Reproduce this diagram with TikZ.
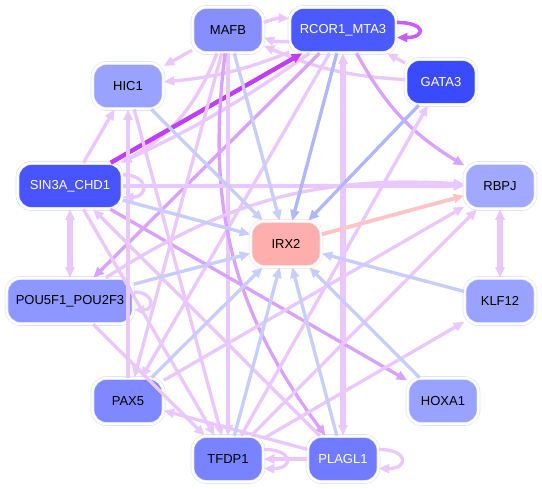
\documentclass[tikz,border=0pt]{standalone}
\usepackage{fontspec}
\setmainfont{Liberation Sans}
\usetikzlibrary{arrows.meta}
\usepackage{xcolor}
\definecolor{lav}{HTML}{DCE0FF}
\definecolor{clp}{HTML}{EAC8FF}
\definecolor{cmp}{HTML}{DAA2FF}
\definecolor{cdp}{HTML}{C23CFF}
\definecolor{crl}{HTML}{C95CFF}
\definecolor{clb}{HTML}{C8CDFF}
\definecolor{cmb}{HTML}{AFB8FF}
\definecolor{cpk}{HTML}{FFC4C4}
\definecolor{cmafb}{HTML}{878FFF}
\definecolor{crcor}{HTML}{4B5AFF}
\definecolor{cgata}{HTML}{3A4BFF}
\definecolor{chic}{HTML}{9AA2FF}
\definecolor{csin}{HTML}{4854FF}
\definecolor{crbpj}{HTML}{A0A8FF}
\definecolor{cirx}{HTML}{FFAEAE}
\definecolor{cklf}{HTML}{9AA2FF}
\definecolor{cpou}{HTML}{8E96FF}
\definecolor{cpax}{HTML}{7F88FF}
\definecolor{choxa}{HTML}{9AA2FF}
\definecolor{ctfdp}{HTML}{7A83FF}
\definecolor{cplagl}{HTML}{707BFF}

\begin{document}
\begin{tikzpicture}[>={Triangle[length=2.1mm,width=1.8mm]},
  tf/.style={rounded corners=2.8mm, minimum width=1.42cm, minimum height=0.92cm, inner xsep=1.5mm, draw=lav, line width=0.35pt, double=white, double distance=1.4pt, font=\fontsize{7.4}{9}\selectfont},
  dk/.style={tf, text=white},
  lp/.style={->, draw=clp, line width=1.9pt},
  mp/.style={->, draw=cmp, line width=1.9pt},
  dp/.style={->, draw=cdp, line width=2.5pt},
  lb/.style={->, draw=clb, line width=1.9pt},
  mb/.style={->, draw=cmb, line width=1.9pt},
  pk/.style={->, draw=cpk, line width=2.2pt},
  thk/.style={line width=2.9pt},
  selfloop/.style={out=0, in=0, looseness=4}]
  \useasboundingbox (0,0) rectangle (10.84,9.78);
  \node[tf, fill=cmafb] (mafb) at (4.56,9.18) {MAFB}; \node[dk, fill=crcor, minimum width=2.14cm] (rcor) at (6.86,9.18) {RCOR1\_MTA3};
  \node[dk, fill=cgata] (gata) at (8.82,8.14) {GATA3}; \node[tf, fill=chic] (hic) at (2.56,8.06) {HIC1};
  \node[dk, fill=csin, minimum width=2.1cm] (sin) at (1.40,6.06) {SIN3A\_CHD1}; \node[tf, fill=crbpj] (rbpj) at (10.0,6.06) {RBPJ};
  \node[tf, fill=cirx, draw=cpk!50] (irx) at (5.72,4.90) {IRX2};
  \node[tf, fill=cpou, minimum width=2.54cm] (pou) at (1.40,3.76) {POU5F1\_POU2F3}; \node[tf, fill=cklf] (klf) at (10.0,3.76) {KLF12};
  \node[tf, fill=cpax] (pax) at (2.56,1.76) {PAX5}; \node[tf, fill=choxa] (hoxa) at (8.86,1.76) {HOXA1};
  \node[tf, fill=ctfdp] (tfdp) at (4.56,0.60) {TFDP1}; \node[dk, fill=cplagl] (plagl) at (6.86,0.60) {PLAGL1};
  % top row
  \draw[lp] (mafb) to[bend left=12] (rcor); \draw[lp] (rcor) to[bend left=12] (mafb);
  \draw[->, draw=crl, line width=2pt] (rcor.8) to[selfloop, looseness=5] (rcor.-8);
  \draw[lp] (gata) -- (rcor); \draw[lp] (gata) to[bend left=10] (mafb);
  \draw[lp] (mafb) -- (hic); \draw[lp] (rcor) to[bend left=8] (hic);
  \draw[lp] (mafb) to[bend left=20] (sin); \draw[lp] (rcor) to[bend left=5] (sin);
  \draw[dp] (sin) -- (rcor);
  \draw[mp] (rcor) to[bend right=15] (rbpj); \draw[mp] (rcor) -- (pou);
  \draw[lp] (rcor) -- (pax); \draw[lp] (mafb) -- (pax); \draw[lp] (mafb) -- (tfdp);
  \draw[mp] (mafb) to[bend right=22] (plagl);
  \draw[lp, thk, <->] (rcor) -- (plagl);
  % left side
  \draw[lp] (sin) -- (hic); \draw[lp] (sin) -- (rbpj); \draw[lp, thk, <->] (sin) -- (pou);
  \draw[lp] (sin.12) to[selfloop, looseness=3] (sin.-12);
  \draw[mp] (sin) -- (hoxa); \draw[lp] (plagl) -- (sin); \draw[lp] (sin) -- (tfdp);
  \draw[lp] (pax) -- (hic); \draw[lp] (hic) -- (tfdp);
  \draw[lp] (pou) to[bend left=18] (rbpj); \draw[lp] (pou) -- (tfdp);
  \draw[lp] (pou.8) to[selfloop, looseness=3] (pou.-8);
  % right side and bottom
  \draw[lp, thk, <->] (rbpj) -- (klf);
  \draw[lp] (pax) -- (rbpj); \draw[lp] (tfdp) -- (rbpj); \draw[lp] (tfdp) -- (klf); \draw[lp] (tfdp) -- (gata);
  \draw[lp] (plagl) -- (pax); \draw[lp] (plagl) -- (tfdp);
  \draw[lp] (tfdp.15) to[selfloop] (tfdp.-15); \draw[lp] (plagl.15) to[selfloop] (plagl.-15);
  % into IRX2
  \draw[mb] (rcor) -- (irx); \draw[mb] (gata) -- (irx); \draw[lb] (mafb) -- (irx); \draw[lb] (hic) -- (irx);
  \draw[lb] (sin) -- (irx); \draw[lb] (pou) -- (irx); \draw[lb] (pax) -- (irx); \draw[lb] (tfdp) -- (irx);
  \draw[lb] (plagl) -- (irx); \draw[lb] (hoxa) -- (irx); \draw[lb] (klf) -- (irx);
  \draw[pk] (irx) -- (rbpj);
\end{tikzpicture}
\end{document}
